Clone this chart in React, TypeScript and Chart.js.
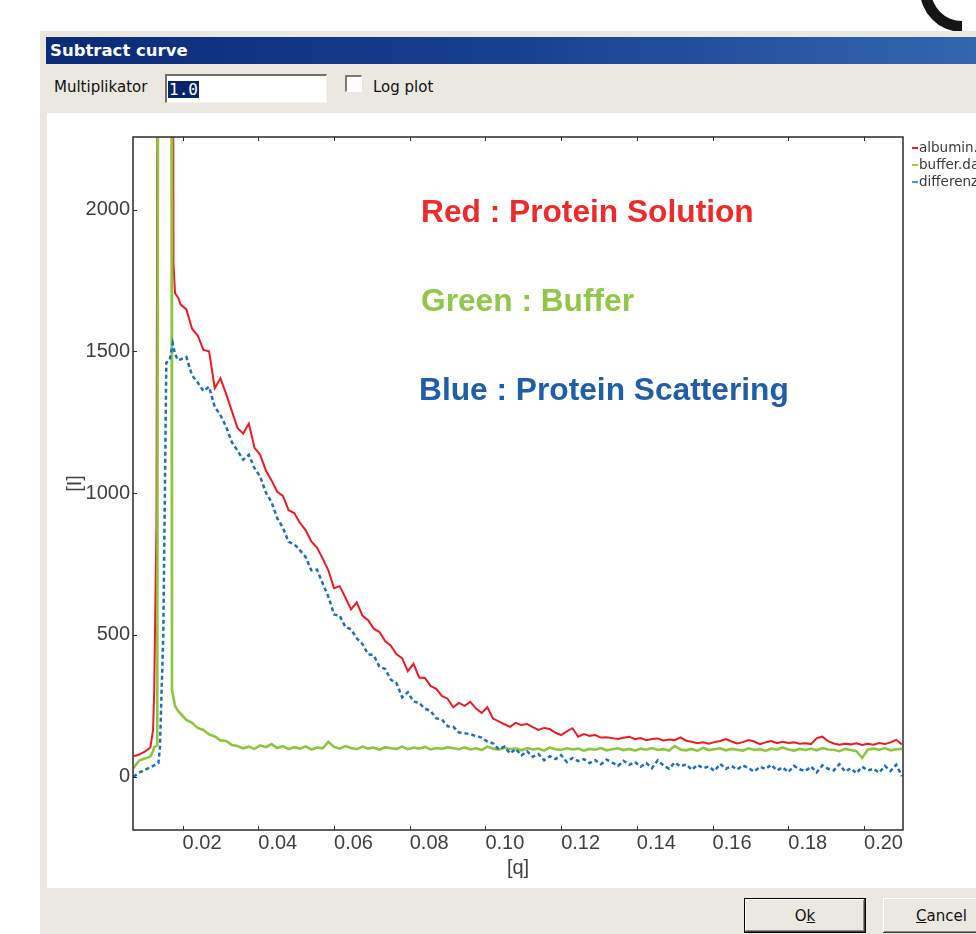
import React, { useEffect, useRef } from 'react';
import { Chart, registerables } from 'chart.js';

Chart.register(...registerables);

// ---------- data ----------
const Q: number[] = [
  0.0070, 0.0085, 0.0100, 0.0110, 0.0115, 0.0122, 0.0125, 0.0131, 0.0133, 0.0136,
  0.0140, 0.0149, 0.0153, 0.0157, 0.0166, 0.0170, 0.0172, 0.0174, 0.0176, 0.0180, 0.0188,
  0.0195, 0.0210, 0.0225, 0.0240, 0.0255, 0.0270, 0.0285, 0.0300, 0.0315, 0.0330,
  0.0345, 0.0360, 0.0375, 0.0390, 0.0405, 0.0420, 0.0435, 0.0450, 0.0465, 0.0480,
  0.0495, 0.0510, 0.0525, 0.0540, 0.0555, 0.0570, 0.0585, 0.0600, 0.0615, 0.0630,
  0.0645, 0.0660, 0.0675, 0.0690, 0.0705, 0.0720, 0.0735, 0.0750, 0.0765, 0.0780,
  0.0795, 0.0810, 0.0825, 0.0840, 0.0855, 0.0870, 0.0885, 0.0900, 0.0915, 0.0930,
  0.0945, 0.0960, 0.0975, 0.0990, 0.1005, 0.1020, 0.1035, 0.1050, 0.1065, 0.1080,
  0.1095, 0.1110, 0.1125, 0.1140, 0.1155, 0.1170, 0.1185, 0.1200, 0.1215, 0.1230,
  0.1245, 0.1260, 0.1275, 0.1290, 0.1305, 0.1320, 0.1335, 0.1350, 0.1365, 0.1380,
  0.1395, 0.1410, 0.1425, 0.1440, 0.1455, 0.1470, 0.1485, 0.1500, 0.1515, 0.1530,
  0.1545, 0.1560, 0.1575, 0.1590, 0.1605, 0.1620, 0.1635, 0.1650, 0.1665, 0.1680,
  0.1695, 0.1710, 0.1725, 0.1740, 0.1755, 0.1770, 0.1785, 0.1800, 0.1815, 0.1830,
  0.1845, 0.1860, 0.1875, 0.1890, 0.1905, 0.1920, 0.1935, 0.1950, 0.1965, 0.1980,
  0.1995, 0.2010, 0.2025, 0.2040, 0.2055, 0.2070, 0.2085, 0.2100,
];

// albumin (protein solution)
const RED: (number | null)[] = [
  72, 78, 88, 98, 104, 165, 300, 890, 2115, 3500,
  null, null, null, null, null, null, null, 3500, 1810, 1705, 1690,
  1665, 1648, 1580, 1556, 1505, 1500, 1370, 1405, 1350, 1290,
  1230, 1210, 1245, 1160, 1135, 1080, 1045, 1005, 990, 940,
  930, 895, 870, 830, 808, 770, 728, 665, 672, 632,
  590, 615, 568, 552, 522, 510, 478, 462, 432, 418,
  372, 398, 350, 348, 320, 310, 285, 275, 245, 260,
  250, 264, 240, 225, 245, 205, 195, 185, 176, 190,
  182, 186, 175, 165, 172, 168, 155, 147, 160, 171,
  141, 150, 144, 147, 138, 139, 136, 133, 137, 141,
  132, 136, 129, 133, 135, 128, 131, 129, 139, 127,
  123, 118, 121, 116, 122, 126, 133, 124, 117, 122,
  129, 124, 115, 121, 126, 118, 123, 119, 121, 116,
  118, 115, 136, 141, 125, 117, 113, 116, 114, 118,
  112, 116, 113, 119, 115, 121, 130, 114,
];

// buffer
const GREEN: (number | null)[] = [
  30, 57, 64, 68, 72, 90, 104, 108, 112, 3500,
  null, null, null, null, null, 3500, 305, null, null, 250, 232,
  222, 200, 190, 172, 165, 149, 142, 128, 126, 112,
  108, 100, 106, 98, 110, 104, 115, 101, 108, 97,
  104, 99, 107, 96, 103, 100, 123, 105, 99, 108,
  101, 97, 106, 99, 103, 95, 104, 100, 98, 106,
  97, 103, 99, 105, 96, 101, 98, 104, 100, 97,
  103, 96, 100, 94, 106, 99, 95, 102, 97, 100,
  93, 101, 96, 99, 92, 103, 97, 94, 100, 96,
  99, 92, 98, 95, 101, 93, 97, 100, 94, 98,
  92, 99, 95, 101, 94, 97, 92, 108, 96, 93,
  98, 91, 102, 94, 97, 100, 93, 98, 95, 92,
  100, 94, 97, 91, 99, 95, 103, 96, 92, 98,
  94, 99, 93, 101, 96, 95, 90, 98, 94, 90,
  66, 95, 99, 95, 101, 93, 97, 98,
];

// difference (protein scattering)
const BLUE: (number | null)[] = [
  0, 14, 24, 30, 33, 38, null, 44, null, 48,
  100, 500, 975, 1460, 1470, null, null, 1528, null, 1490, 1469,
  1472, 1480, 1415, 1390, 1360, 1375, 1304, 1275, 1234, 1180,
  1150, 1118, 1135, 1088, 1058, 1002, 968, 912, 878, 828,
  820, 798, 775, 728, 730, 682, 635, 572, 568, 528,
  520, 488, 468, 432, 428, 388, 380, 342, 330, 280,
  298, 265, 260, 240, 232, 206, 202, 178, 176, 156,
  153, 150, 143, 138, 124, 118, 96, 106, 82, 98,
  75, 90, 70, 80, 58, 72, 62, 76, 52, 66,
  55, 62, 48, 58, 44, 60, 50, 38, 56, 42,
  52, 35, 48, 30, 58, 40, 28, 50, 36, 44,
  24, 42, 30, 36, 20, 45, 28, 38, 25, 40,
  30, 18, 35, 27, 42, 22, 33, 16, 38, 26,
  20, 36, 15, 40, 28, 22, 44, 18, 30, 12,
  35, 22, 28, 14, 38, 20, 42, 2,
];

const SERIES_NAMES = ['albumin.dat', 'buffer.dat', 'differenz.dat'];
const X_TICKS = [0.02, 0.04, 0.06, 0.08, 0.1, 0.12, 0.14, 0.16, 0.18, 0.2];
const X_TICK_LABELS = ['0.02', '0.04', '0.06', '0.08', '0.10', '0.12', '0.14', '0.16', '0.18', '0.20'];
const Y_TICKS = [0, 500, 1000, 1500, 2000];
const Y_TICK_LABELS = ['0', '500', '1000', '1500', '2000'];
const X_MIN = 0.0069;
const X_MAX = 0.2103;
const Y_MIN = -188;
const Y_MAX = 2256;

const ANNOTATIONS = ['Red : Protein Solution', 'Green : Buffer', 'Blue : Protein Scattering'];

// ---------- styles ----------
const C_RED = '#ed1c24';
const C_GREEN = '#8dc63f';
const C_BLUE = '#1b6ec2';
const AXIS_FONT = '"Liberation Sans", Arial, sans-serif';
const UI_FONT = '"DejaVu Sans", Tahoma, sans-serif';

const framePlugin = {
  id: 'frame',
  afterDatasetsDraw(chart: any) {
    const { ctx, chartArea: a, scales } = chart;
    const x = scales.x;
    const y = scales.y;
    ctx.save();
    ctx.strokeStyle = '#2b2b2b';
    ctx.lineWidth = 1.5;
    ctx.strokeRect(a.left, a.top, a.right - a.left, a.bottom - a.top);
    ctx.lineWidth = 1;
    ctx.beginPath();
    X_TICKS.forEach((v) => {
      const px = Math.round(x.getPixelForValue(v)) + 0.5;
      ctx.moveTo(px, a.bottom);
      ctx.lineTo(px, a.bottom - 4);
      ctx.moveTo(px, a.top);
      ctx.lineTo(px, a.top + 4);
    });
    Y_TICKS.forEach((v) => {
      const py = Math.round(y.getPixelForValue(v)) + 0.5;
      ctx.moveTo(a.left, py);
      ctx.lineTo(a.left + 4, py);
    });
    ctx.stroke();
    ctx.restore();
  },
};

function PlotCanvas() {
  const ref = useRef<HTMLCanvasElement | null>(null);
  useEffect(() => {
    if (!ref.current) return;
    const mk = (vals: (number | null)[]) => Q.map((q, i) => ({ x: q, y: vals[i] }));
    const chart = new Chart(ref.current, {
      type: 'line',
      data: {
        datasets: [
          { label: SERIES_NAMES[0], data: mk(RED) as any, borderColor: C_RED, borderWidth: 2, pointRadius: 0, spanGaps: true, order: 2 },
          { label: SERIES_NAMES[1], data: mk(GREEN) as any, borderColor: C_GREEN, borderWidth: 2.6, pointRadius: 0, spanGaps: true, order: 1 },
          { label: SERIES_NAMES[2], data: mk(BLUE) as any, borderColor: C_BLUE, borderWidth: 2.5, borderDash: [4, 3], pointRadius: 0, spanGaps: true, order: 0 },
        ],
      },
      options: {
        animation: false,
        responsive: false,
        maintainAspectRatio: false,
        layout: { padding: { left: 0, right: 73, top: 24, bottom: 0 } },
        plugins: { legend: { display: false }, tooltip: { enabled: false } },
        elements: { line: { tension: 0 } },
        scales: {
          x: {
            type: 'linear',
            min: X_MIN,
            max: X_MAX,
            afterBuildTicks: (s: any) => { s.ticks = X_TICKS.map((v) => ({ value: v })); },
            afterFit: (s: any) => { s.height = 58; },
            grid: { display: false, drawTicks: false },
            border: { display: false },
            ticks: {
              align: 'start',
              padding: 1,
              autoSkip: false,
              maxRotation: 0,
              color: '#404040',
              font: { family: AXIS_FONT, size: 20 },
              callback: (_v: any, i: number) => X_TICK_LABELS[i],
            },
            title: { display: true, text: '[q]', color: '#404040', font: { family: AXIS_FONT, size: 20 }, padding: { top: 0, bottom: 8 } },
          },
          y: {
            type: 'linear',
            min: Y_MIN,
            max: Y_MAX,
            afterBuildTicks: (s: any) => { s.ticks = Y_TICKS.map((v) => ({ value: v })); },
            afterFit: (s: any) => { s.width = 86; },
            grid: { display: false, drawTicks: false },
            border: { display: false },
            ticks: {
              padding: 3,
              color: '#404040',
              font: { family: AXIS_FONT, size: 20 },
              callback: (_v: any, i: number) => Y_TICK_LABELS[i],
            },
            title: { display: true, text: '[I]', color: '#404040', font: { family: AXIS_FONT, size: 20 }, padding: { top: 16, bottom: 0 } },
          },
        },
      } as any,
      plugins: [framePlugin],
    });
    return () => chart.destroy();
  }, []);
  return <canvas ref={ref} width={929} height={775} style={{ display: 'block', width: 929, height: 775 }} />;
}

const abs = (l: number, t: number, extra: React.CSSProperties = {}): React.CSSProperties => ({ position: 'absolute', left: l, top: t, ...extra });

export default function App() {
  const legendColors = [C_RED, '#a8c83a', '#4a96d8'];
  const legendY = [148, 165, 182];
  const annColors = ['#ee2a2a', '#92c84a', '#215ea8'];
  const annTop = [195.5, 284.5, 373.5];
  const annLeft = [421, 421, 419];
  return (
    <div style={{ position: 'fixed', left: 0, top: 0, width: 976, height: 934, overflow: 'hidden', background: '#ffffff', fontFamily: UI_FONT }}>
      {/* decorative arc at top right */}
      <div style={abs(920, -52, { width: 84, height: 84, boxSizing: 'border-box', border: '11px solid transparent', borderLeftColor: '#151515', borderBottomColor: '#151515', borderRadius: '50%', transform: 'rotate(45deg)' })} />
      {/* dialog body */}
      <div style={abs(40, 31, { width: 960, height: 920, background: '#ebe8e1' })} />
      {/* title bar */}
      <div style={abs(46, 37, { width: 940, height: 27, background: 'linear-gradient(to right, #0b2a78 0%, #17418f 50%, #3467b0 100%)' })} />
      <div style={abs(50, 37, { height: 27, lineHeight: '27px', color: '#ffffff', fontWeight: 'bold', fontSize: 16.5, whiteSpace: 'nowrap' })}>Subtract curve</div>
      {/* toolbar */}
      <div style={abs(54, 77.5, { fontSize: 15, lineHeight: '18px', color: '#111', whiteSpace: 'nowrap' })}>Multiplikator</div>
      <div style={abs(165, 74, { width: 162, height: 29, boxSizing: 'border-box', background: '#fff', borderTop: '2px solid #6e6e6e', borderLeft: '2px solid #6e6e6e', borderRight: '1px solid #f4f4f4', borderBottom: '1px solid #f4f4f4' })}>
        <span style={abs(1, 5, { background: '#0a246a', color: '#fff', fontFamily: '"DejaVu Sans Mono", monospace', fontSize: 16, lineHeight: '17px', padding: '0 1px' })}>1.0</span>
      </div>
      <div style={abs(345, 75, { width: 17, height: 17, boxSizing: 'border-box', background: '#fdfdfd', borderTop: '2px solid #7a7a7a', borderLeft: '2px solid #7a7a7a', borderRight: '1px solid #ffffff', borderBottom: '1px solid #ffffff' })} />
      <div style={abs(373, 77.5, { fontSize: 15, lineHeight: '18px', color: '#111', whiteSpace: 'nowrap' })}>Log plot</div>
      {/* plot area */}
      <div style={abs(47, 113, { width: 929, height: 775, background: '#ffffff' })}>
        <PlotCanvas />
      </div>
      {/* annotations */}
      {ANNOTATIONS.map((t, i) => (
        <div key={t} style={abs(annLeft[i], annTop[i], { fontFamily: AXIS_FONT, fontWeight: 'bold', fontSize: 31.7, lineHeight: '31px', color: annColors[i], whiteSpace: 'nowrap' })}>{t}</div>
      ))}
      {/* legend */}
      {SERIES_NAMES.map((n, i) => (
        <React.Fragment key={n}>
          <div style={abs(912, legendY[i] - 1, { width: 6, height: 2, background: legendColors[i] })} />
          <div style={abs(919, legendY[i] - 9, { fontSize: 13.5, lineHeight: '17px', color: '#3a3a3a', whiteSpace: 'nowrap' })}>{n}</div>
        </React.Fragment>
      ))}
      {/* buttons */}
      <div style={abs(744, 898, { width: 122, height: 35, boxSizing: 'border-box', border: '1px solid #000', background: '#ebe8e1', boxShadow: 'inset -1px -1px #404040, inset 1px 1px #ffffff, inset -2px -2px #8a8a8a', display: 'flex', alignItems: 'center', justifyContent: 'center', fontSize: 15, color: '#111' })}>
        <span>O<u>k</u></span>
      </div>
      <div style={abs(883, 898, { width: 117, height: 35, boxSizing: 'border-box', background: '#ebe8e1', boxShadow: 'inset -1px -1px #404040, inset 1px 1px #ffffff, inset -2px -2px #8a8a8a', display: 'flex', alignItems: 'center', justifyContent: 'center', fontSize: 15, color: '#111' })}>
        <span><u>C</u>ancel</span>
      </div>
    </div>
  );
}
